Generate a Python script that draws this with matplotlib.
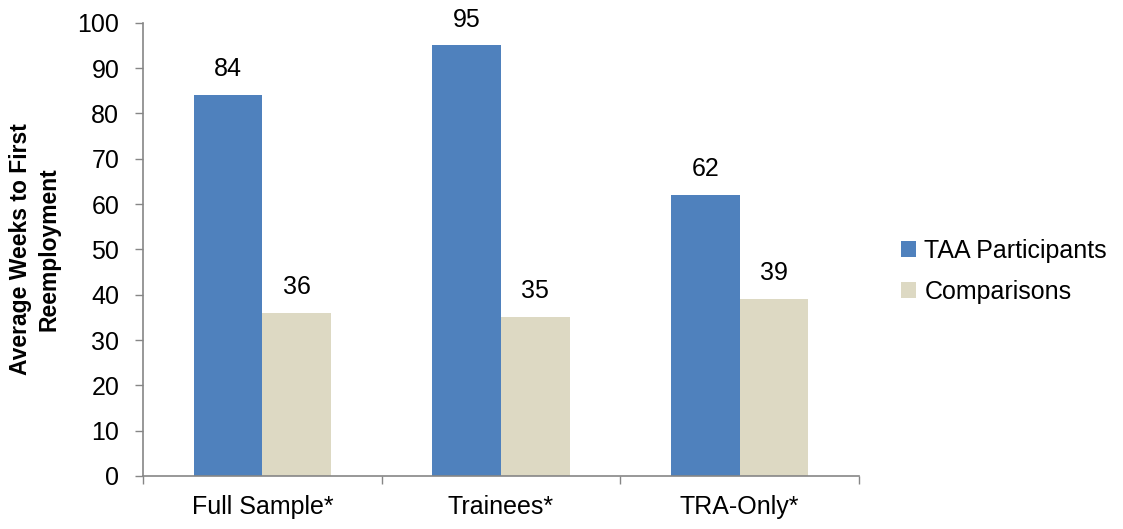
import matplotlib
matplotlib.use("Agg")
import matplotlib.pyplot as plt
import numpy as np

plt.rcParams['font.family'] = ['Liberation Sans', 'DejaVu Sans']

categories = ["Full Sample*", "Trainees*", "TRA-Only*"]
taa_participants = [84, 95, 62]
comparisons = [36, 35, 39]
series_names = ["TAA Participants", "Comparisons"]
y_ticks = [0, 10, 20, 30, 40, 50, 60, 70, 80, 90, 100]

blue = "#4F81BD"
beige = "#DDD9C3"
axis_gray = "#868686"

fig = plt.figure(figsize=(11.23, 5.29), dpi=100)
ax = fig.add_axes([0.1273, 0.1002, 0.6377, 0.8568])

x = np.arange(len(categories))
w = 0.288
b1 = ax.bar(x - w / 2, taa_participants, w, color=blue, label=series_names[0])
b2 = ax.bar(x + w / 2, comparisons, w, color=beige, label=series_names[1])

for bars, vals in ((b1, taa_participants), (b2, comparisons)):
    for rect, v in zip(bars, vals):
        ax.annotate(f"{v}", (rect.get_x() + rect.get_width() / 2, v),
                    xytext=(0, 10), textcoords="offset points",
                    ha="center", va="bottom", fontsize=18, color="black")

ax.set_xlim(-0.5, 2.5)
ax.set_ylim(0, 100)
ax.set_yticks(y_ticks)
ax.tick_params(axis="y", labelsize=18, length=6, width=1, color=axis_gray, pad=11)

# category labels at centers, tick marks at category boundaries
ax.set_xticks(x)
ax.set_xticklabels(categories, fontsize=18)
ax.tick_params(axis="x", length=0, pad=14)
ax.set_xticks(np.arange(-0.5, 3.0, 1.0), minor=True)
ax.tick_params(axis="x", which="minor", length=6, width=1, color=axis_gray)

for s in ("top", "right"):
    ax.spines[s].set_visible(False)
for s in ("left", "bottom"):
    ax.spines[s].set_color(axis_gray)
    ax.spines[s].set_linewidth(1.2)

ax.set_ylabel("Average Weeks to First\nReemployment", fontsize=16.5,
              fontweight="bold", labelpad=12, linespacing=1.35)

leg = fig.legend(handles=[b1, b2], loc="center left",
                 bbox_to_anchor=(0.782, 0.487), frameon=False, fontsize=18,
                 handlelength=0.6, handleheight=0.6, handletextpad=0.35,
                 labelspacing=0.7)

fig.savefig("out.png", dpi=100)
